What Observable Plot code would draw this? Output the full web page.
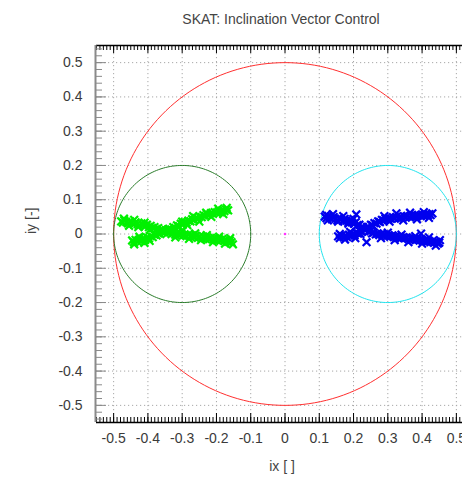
<!DOCTYPE html>
<html>
<head>
<meta charset="utf-8">
<script src="https://cdn.jsdelivr.net/npm/d3@7"></script>
<script src="https://cdn.jsdelivr.net/npm/@observablehq/plot@0.6"></script>
<style>
  html, body { margin: 0; padding: 0; background: #fff; }
</style>
</head>
<body>
<div id="chart"></div>
<script>
const titleText = "SKAT: Inclination Vector Control";
const xLabelText = "ix [ ]";
const yLabelText = "iy [-]";

const xTickValues = [-0.5, -0.4, -0.3, -0.2, -0.1, 0, 0.1, 0.2, 0.3, 0.4, 0.5];
const yTickValues = [-0.5, -0.4, -0.3, -0.2, -0.1, 0, 0.1, 0.2, 0.3, 0.4, 0.5];

// reference circles: control box (red), west box (green), east box (cyan)
const circleCenters = [[0, 0], [-0.3, 0], [0.3, 0]];
const circleRadii = [0.5, 0.2, 0.2];
const circleColors = ["#ff3030", "#2b7d2b", "#22e4ee"];

// inclination vector history, west half (green)
const greenPoints = [
  [-0.478,0.037],[-0.473,0.033],[-0.469,0.040],[-0.463,0.035],[-0.458,0.031],[-0.452,0.037],
  [-0.447,0.032],[-0.441,0.028],[-0.436,0.034],[-0.430,0.029],[-0.425,0.025],[-0.419,0.031],
  [-0.414,0.026],[-0.408,0.022],[-0.403,0.027],[-0.397,0.020],[-0.392,0.024],[-0.386,0.017],
  [-0.381,0.020],[-0.375,0.014],[-0.370,0.017],[-0.364,0.010],[-0.359,0.013],[-0.353,0.006],
  [-0.348,0.009],[-0.342,0.003],[-0.337,0.006],[-0.331,0.000],[-0.326,0.004],[-0.320,-0.002],
  [-0.315,0.002],[-0.309,-0.003],[-0.304,0.001],[-0.298,-0.005],[-0.293,-0.001],[-0.287,-0.006],
  [-0.282,-0.002],[-0.276,-0.008],[-0.271,-0.004],[-0.265,-0.009],[-0.260,-0.005],[-0.254,-0.011],
  [-0.249,-0.007],[-0.243,-0.012],[-0.238,-0.008],[-0.232,-0.014],[-0.227,-0.010],[-0.221,-0.015],
  [-0.216,-0.011],[-0.210,-0.016],[-0.205,-0.012],[-0.199,-0.018],[-0.194,-0.014],[-0.188,-0.019],
  [-0.183,-0.015],[-0.177,-0.021],[-0.172,-0.017],[-0.166,-0.023],[-0.161,-0.019],[-0.156,-0.024],
  [-0.446,-0.019],[-0.441,-0.024],[-0.436,-0.017],[-0.430,-0.022],[-0.425,-0.016],[-0.419,-0.020],
  [-0.414,-0.013],[-0.408,-0.017],[-0.403,-0.010],[-0.397,-0.013],[-0.392,-0.006],[-0.386,-0.009],
  [-0.381,-0.002],[-0.375,-0.004],[-0.370,0.002],[-0.364,0.000],[-0.359,0.006],[-0.353,0.005],
  [-0.348,0.011],[-0.342,0.009],[-0.337,0.015],[-0.331,0.013],[-0.326,0.020],[-0.320,0.018],
  [-0.315,0.025],[-0.309,0.023],[-0.304,0.030],[-0.298,0.028],[-0.293,0.035],[-0.287,0.033],
  [-0.282,0.039],[-0.276,0.037],[-0.271,0.043],[-0.265,0.041],[-0.260,0.047],[-0.254,0.045],
  [-0.249,0.051],[-0.243,0.049],[-0.238,0.055],[-0.232,0.053],[-0.227,0.058],[-0.221,0.056],
  [-0.216,0.061],[-0.210,0.059],[-0.205,0.064],[-0.199,0.062],[-0.194,0.066],[-0.188,0.064],
  [-0.183,0.069],[-0.177,0.067],[-0.172,0.071],[-0.166,0.069],
  [-0.470,0.045],[-0.455,0.024],[-0.440,0.041],[-0.428,0.020],[-0.410,0.033],[-0.395,0.012],
  [-0.300,0.036],[-0.285,0.026],[-0.268,0.052],[-0.250,0.036],[-0.230,0.062],[-0.215,0.050],
  [-0.195,0.074],[-0.180,0.058],[-0.170,0.076],
  [-0.440,-0.030],[-0.425,-0.008],[-0.410,-0.026],[-0.395,-0.020],
  [-0.340,0.014],[-0.320,-0.010],[-0.300,0.008],[-0.280,-0.014],[-0.262,0.002],[-0.245,-0.018],
  [-0.228,-0.003],[-0.210,-0.024],[-0.192,-0.008],[-0.175,-0.028],[-0.160,-0.012],[-0.152,-0.030]
];

// inclination vector history, east half (blue)
const bluePoints = [
  [0.116,0.051],[0.121,0.046],[0.126,0.053],[0.131,0.047],[0.137,0.043],[0.142,0.049],
  [0.147,0.044],[0.153,0.040],[0.158,0.047],[0.163,0.042],[0.169,0.038],[0.174,0.044],
  [0.179,0.039],[0.185,0.035],[0.190,0.041],[0.195,0.034],[0.201,0.030],[0.206,0.034],
  [0.211,0.026],[0.217,0.027],[0.222,0.019],[0.227,0.021],[0.233,0.013],[0.238,0.014],
  [0.243,0.007],[0.249,0.008],[0.254,0.002],[0.259,0.004],[0.265,-0.001],[0.270,0.002],
  [0.275,-0.003],[0.281,0.000],[0.286,-0.005],[0.291,-0.001],[0.297,-0.006],[0.302,-0.003],
  [0.307,-0.008],[0.313,-0.004],[0.318,-0.009],[0.323,-0.006],[0.329,-0.011],[0.334,-0.007],
  [0.339,-0.012],[0.345,-0.009],[0.350,-0.013],[0.355,-0.010],[0.361,-0.015],[0.366,-0.011],
  [0.371,-0.016],[0.377,-0.013],[0.382,-0.018],[0.387,-0.014],[0.393,-0.019],[0.398,-0.016],
  [0.403,-0.021],[0.409,-0.018],[0.414,-0.023],[0.419,-0.019],[0.425,-0.024],[0.430,-0.021],
  [0.435,-0.026],[0.441,-0.023],[0.446,-0.028],[0.450,-0.025],
  [0.155,-0.007],[0.160,-0.012],[0.165,-0.005],[0.171,-0.010],[0.176,-0.004],[0.181,-0.009],
  [0.187,-0.002],[0.192,-0.007],[0.197,0.000],[0.203,-0.004],[0.208,0.004],[0.213,0.001],
  [0.219,0.009],[0.224,0.007],[0.229,0.015],[0.235,0.013],[0.240,0.021],[0.245,0.019],
  [0.251,0.027],[0.256,0.025],[0.261,0.032],[0.267,0.030],[0.272,0.037],[0.277,0.035],
  [0.283,0.041],[0.288,0.039],[0.293,0.045],[0.299,0.042],[0.304,0.047],[0.309,0.044],
  [0.315,0.049],[0.320,0.045],[0.325,0.050],[0.331,0.046],[0.336,0.051],[0.341,0.047],
  [0.347,0.052],[0.352,0.048],[0.357,0.053],[0.363,0.049],[0.368,0.054],[0.373,0.050],
  [0.379,0.055],[0.384,0.051],[0.389,0.056],[0.395,0.052],[0.400,0.057],[0.405,0.053],
  [0.411,0.058],[0.416,0.054],[0.421,0.058],[0.425,0.055],
  [0.125,0.040],[0.140,0.058],[0.155,0.036],[0.170,0.052],[0.185,0.030],[0.200,0.044],
  [0.290,0.052],[0.305,0.036],[0.325,0.060],[0.345,0.040],[0.365,0.062],[0.385,0.043],
  [0.405,0.064],[0.420,0.047],[0.430,0.060],
  [0.160,0.000],[0.175,-0.016],[0.190,0.006],[0.205,-0.012],[0.220,0.000],
  [0.280,-0.012],[0.300,0.004],[0.320,-0.018],[0.340,-0.002],[0.360,-0.024],[0.380,-0.006],
  [0.400,-0.028],[0.420,-0.010],[0.440,-0.034],[0.452,-0.018],
  [0.208,0.057],[0.397,0.001],[0.238,-0.024],[0.120,0.056]
];

const originPoint = [[0, 0]];

// ---- layout ----
const W = 462, H = 479;
const mT = 45, mB = 57, mL = 96, mR = 0;
const frameW = W - mL - mR, frameH = H - mT - mB;
const yDomain = [-0.55, 0.55];
const pxPerUnit = frameH / (yDomain[1] - yDomain[0]);
const xDomain = [-0.55, -0.55 + frameW / pxPerUnit];

// axis tick structure
const denseTicks = d3.range(-55, 52).map(i => i / 100);
const leftMinor = d3.range(-27, 28).map(i => i * 0.02);
const fmt = d => String(+d.toFixed(2));

function circlePath(center, r) {
  return d3.range(0, 361, 2).map(a => {
    const t = a * Math.PI / 180;
    return [center[0] + r * Math.cos(t), center[1] + r * Math.sin(t)];
  });
}

const font = "'Liberation Sans', Arial, Helvetica, sans-serif";

const chart = Plot.plot({
  width: W,
  height: H,
  marginTop: mT, marginBottom: mB, marginLeft: mL, marginRight: mR,
  x: {domain: xDomain},
  y: {domain: yDomain},
  style: {fontFamily: font, fontSize: "14px", background: "#fff", color: "#3a3a3a", overflow: "visible"},
  marks: [
    // dotted grid
    Plot.ruleX(xTickValues, {x: d => d, stroke: "#a8a8a8", strokeDasharray: "1.2,2.8", strokeWidth: 1}),
    Plot.ruleY(yTickValues, {y: d => d, stroke: "#a8a8a8", strokeDasharray: "1.2,2.8", strokeWidth: 1}),
    // circles
    ...circleCenters.map((c, i) =>
      Plot.line(circlePath(c, circleRadii[i]), {x: d => d[0], y: d => d[1], stroke: circleColors[i], strokeWidth: 1})),
    // origin marker
    Plot.dot(originPoint, {x: d => d[0], y: d => d[1], r: 1.3, fill: "#ff33ff", stroke: null}),
    // data
    Plot.dot(greenPoints, {x: d => d[0], y: d => d[1], symbol: "times", r: 3.6, stroke: "#00f000", strokeWidth: 2.2}),
    Plot.dot(bluePoints, {x: d => d[0], y: d => d[1], symbol: "times", r: 3.6, stroke: "#0000ee", strokeWidth: 2.2}),
    // top dense ticks
    Plot.ruleX(denseTicks, {x: d => d, stroke: "#000", strokeWidth: 1, insetBottom: frameH - 5}),
    Plot.ruleX(xTickValues, {x: d => d, stroke: "#000", strokeWidth: 1, insetBottom: frameH - 8}),
    // bottom dense ticks
    Plot.ruleX(denseTicks, {x: d => d, stroke: "#000", strokeWidth: 1, insetTop: frameH - 5}),
    Plot.ruleX(xTickValues, {x: d => d, stroke: "#000", strokeWidth: 1, insetTop: frameH - 9}),
    // frame top / bottom
    Plot.ruleY([yDomain[1]], {y: d => d, stroke: "#000", strokeWidth: 1.5}),
    Plot.ruleY([yDomain[0]], {y: d => d, stroke: "#000", strokeWidth: 1.5}),
    // left axis line and ticks
    Plot.ruleX([xDomain[0]], {x: d => d, stroke: "#8a8a8a", strokeWidth: 2, dx: -1}),
    Plot.ruleY(leftMinor, {y: d => d, stroke: "#8a8a8a", strokeWidth: 1, insetRight: frameW - 6}),
    Plot.ruleY(yTickValues, {y: d => d, stroke: "#8a8a8a", strokeWidth: 1, insetRight: frameW - 10}),
    // tick labels
    Plot.axisX({anchor: "bottom", ticks: xTickValues, tickFormat: fmt, tickSize: 0, tickPadding: 11, label: null, fontSize: 14, fill: "#3a3a3a"}),
    Plot.axisY({anchor: "left", ticks: yTickValues, tickFormat: fmt, tickSize: 0, tickPadding: 14, label: null, fontSize: 14, fill: "#3a3a3a"}),
    // titles
    Plot.text([{t: titleText, x: 0}], {x: "x", text: "t", frameAnchor: "top", dy: -31, dx: -4, fontSize: 14, fill: "#444"}),
    Plot.text([{t: xLabelText, x: 0}], {x: "x", text: "t", frameAnchor: "bottom", dy: 48, dx: -3, fontSize: 14, fill: "#444"}),
    Plot.text([{t: yLabelText, y: 0}], {y: "y", text: "t", frameAnchor: "left", dx: -65, rotate: -90, fontSize: 14, fill: "#444"})
  ]
});

document.getElementById("chart").appendChild(chart);
</script>
</body>
</html>
